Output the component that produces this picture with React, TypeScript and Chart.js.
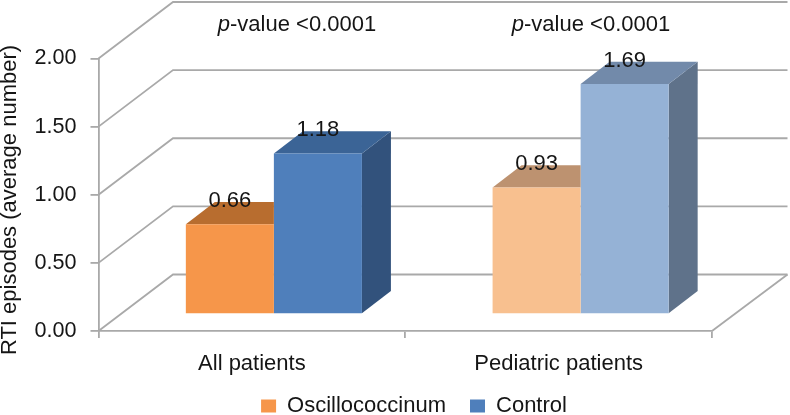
import React, { useEffect, useRef } from "react";
import { Chart, registerables } from "chart.js";

Chart.register(...registerables);

const categories = ["All patients", "Pediatric patients"];
const oscillococcinumValues = [0.66, 0.93];
const controlValues = [1.18, 1.69];
const seriesNames = ["Oscillococcinum", "Control"];
const pValueLabels = ["-value <0.0001", "-value <0.0001"];
const axisTitle = "RTI episodes (average number)";

const orangeFront = ["#F6964A", "#F8C08F"];
const orangeTop = ["#B86D2F", "#BD9270"];
const blueFront = ["#4F7FBB", "#95B2D6"];
const blueTop = ["#3B6496", "#728AAA"];
const blueSide = ["#32527C", "#5F728A"];

const FONT = '"Liberation Sans", Arial, sans-serif';
const FONT_SIZE = 22;
const TICK_FONT_SIZE = 21.6;
const GRID = "#A9A9A9";
const GRID_WIDTH = 1.8;
const TEXT = "#151515";

// oblique projection of the room and of the bars
const WALL_DX = 74.5;
const WALL_DY = -56.5;
const BAR_DX = 29;
const BAR_DY = -22.3;
const BAR_SHIFT_X = 22;
const BAR_SHIFT_Y = -16.8;

const faces = [
  { top: orangeTop, side: null as string[] | null },
  { top: blueTop, side: blueSide as string[] | null },
];

const threeD = {
  id: "threeD",
  afterLayout(chart: any) {
    const legend = chart.legend;
    legend.left = 38;
    legend.right = 790;
    legend.top = 371;
    legend.bottom = 415;
  },
  beforeDatasetsDraw(chart: any) {
    const { ctx, chartArea, scales } = chart;
    const y = scales.y;
    ctx.save();
    ctx.strokeStyle = GRID;
    ctx.lineWidth = GRID_WIDTH;
    y.ticks.forEach((t: any) => {
      const py = y.getPixelForValue(t.value);
      ctx.beginPath();
      ctx.moveTo(chartArea.left, py);
      ctx.lineTo(chartArea.left + WALL_DX, py + WALL_DY);
      ctx.lineTo(chartArea.right + WALL_DX + 1, py + WALL_DY);
      ctx.stroke();
    });
    const py0 = y.getPixelForValue(0);
    ctx.beginPath();
    ctx.moveTo(chartArea.right, py0);
    ctx.lineTo(chartArea.right + WALL_DX + 1, py0 + WALL_DY);
    ctx.stroke();
    ctx.restore();
  },
  beforeDatasetDraw(chart: any, args: any) {
    const { ctx } = chart;
    const f = faces[args.index];
    ctx.save();
    ctx.translate(BAR_SHIFT_X, BAR_SHIFT_Y);
    args.meta.data.forEach((bar: any, i: number) => {
      const p = bar.getProps(["x", "y", "base", "width"], true);
      const l = p.x - p.width / 2;
      const r = p.x + p.width / 2;
      if (f.side) {
        ctx.fillStyle = f.side[i];
        ctx.beginPath();
        ctx.moveTo(r, p.y);
        ctx.lineTo(r + BAR_DX, p.y + BAR_DY);
        ctx.lineTo(r + BAR_DX, p.base + BAR_DY);
        ctx.lineTo(r, p.base);
        ctx.closePath();
        ctx.fill();
      }
      // a bar with a taller neighbour on its right only shows up to its right edge
      const topRight = f.side ? r + BAR_DX : r;
      ctx.fillStyle = f.top[i];
      ctx.beginPath();
      ctx.moveTo(l, p.y);
      ctx.lineTo(l + BAR_DX, p.y + BAR_DY);
      ctx.lineTo(topRight, p.y + BAR_DY);
      ctx.lineTo(r, p.y);
      ctx.closePath();
      ctx.fill();
    });
  },
  afterDatasetDraw(chart: any) {
    chart.ctx.restore();
  },
  afterDatasetsDraw(chart: any) {
    const { ctx } = chart;
    ctx.save();
    ctx.fillStyle = TEXT;
    ctx.textBaseline = "middle";
    ctx.font = `${FONT_SIZE}px ${FONT}`;
    ctx.textAlign = "center";
    chart.data.datasets.forEach((ds: any, di: number) => {
      chart.getDatasetMeta(di).data.forEach((bar: any, i: number) => {
        ctx.fillText(ds.data[i].toFixed(2), bar.x + BAR_SHIFT_X, bar.y + BAR_SHIFT_Y + BAR_DY - 1);
      });
    });

    // p-value captions above each group
    const captionX = [297, 591];
    pValueLabels.forEach((text, i) => {
      ctx.textAlign = "left";
      ctx.font = `${FONT_SIZE}px ${FONT}`;
      const w = ctx.measureText(text).width;
      ctx.font = `italic ${FONT_SIZE}px ${FONT}`;
      const pw = ctx.measureText("p").width;
      const x0 = captionX[i] - (w + pw) / 2;
      ctx.fillText("p", x0, 25);
      ctx.font = `${FONT_SIZE}px ${FONT}`;
      ctx.fillText(text, x0 + pw, 25);
    });

    // rotated axis title
    ctx.save();
    ctx.translate(10, 200);
    ctx.rotate(-Math.PI / 2);
    ctx.textAlign = "center";
    ctx.font = `22px ${FONT}`;
    ctx.fillText(axisTitle, 0, 0);
    ctx.restore();
    ctx.restore();
  },
};

export default function App() {
  const ref = useRef<HTMLCanvasElement>(null);
  useEffect(() => {
    const chart = new Chart(ref.current as HTMLCanvasElement, {
      type: "bar",
      data: {
        labels: categories,
        datasets: [
          { label: seriesNames[0], data: oscillococcinumValues, backgroundColor: orangeFront, borderWidth: 0, clip: false } as any,
          { label: seriesNames[1], data: controlValues, backgroundColor: blueFront, borderWidth: 0, clip: false } as any,
        ],
      },
      plugins: [threeD],
      options: {
        responsive: false,
        animation: false,
        layout: { padding: { top: 58.5, right: 78, left: 0, bottom: -17 } },
        datasets: { bar: { categoryPercentage: 0.574, barPercentage: 1 } },
        scales: {
          x: {
            afterFit(s: any) { s.height = 45; },
            grid: { drawOnChartArea: false, drawTicks: true, tickLength: 7, color: GRID, lineWidth: GRID_WIDTH },
            border: { color: GRID, width: GRID_WIDTH },
            ticks: { color: TEXT, padding: 13, maxRotation: 0, font: { family: FONT, size: FONT_SIZE } },
          },
          y: {
            min: 0,
            max: 2,
            afterFit(s: any) { s.width = 98.5; },
            grid: { drawOnChartArea: false, drawTicks: true, tickLength: 8, color: GRID, lineWidth: GRID_WIDTH },
            border: { color: GRID, width: GRID_WIDTH },
            ticks: {
              stepSize: 0.5,
              color: TEXT,
              padding: 14,
              font: { family: FONT, size: TICK_FONT_SIZE },
              callback: (v: any) => Number(v).toFixed(2),
            },
          },
        },
        plugins: {
          title: { display: false },
          tooltip: { enabled: false },
          legend: {
            position: "bottom",
            labels: {
              usePointStyle: true,
              pointStyle: "rect",
              pointStyleWidth: 15,
              boxHeight: 13,
              padding: 24,
              color: TEXT,
              font: { family: FONT, size: FONT_SIZE },
            },
          },
        },
      } as any,
    });
    return () => chart.destroy();
  }, []);
  return (
    <div style={{ position: "fixed", left: 0, top: 0, width: 790, height: 415, background: "#fff" }}>
      <canvas ref={ref} width={790} height={415} style={{ display: "block" }} />
    </div>
  );
}
